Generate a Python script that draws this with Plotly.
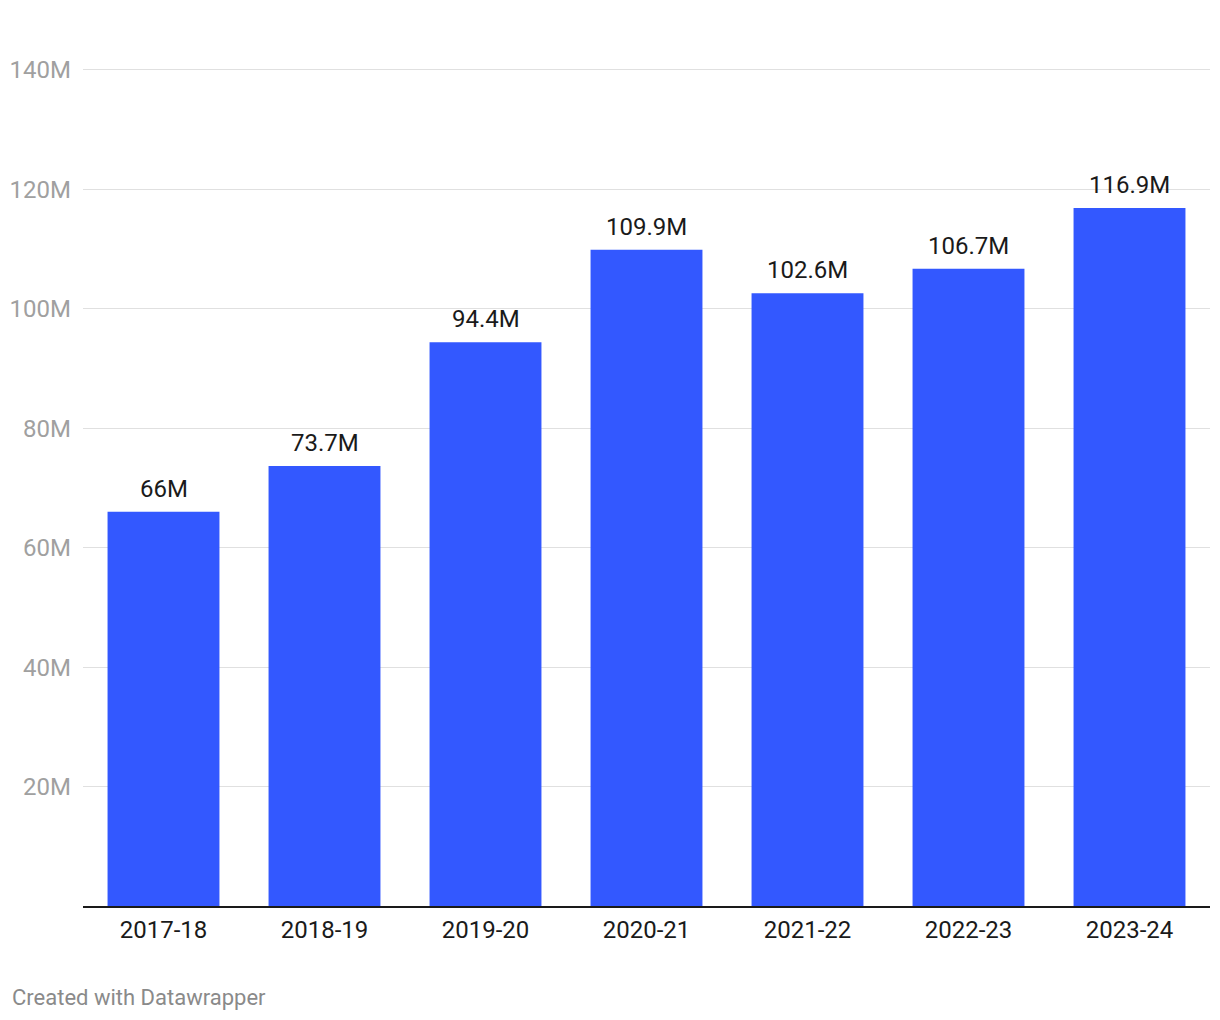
import plotly.graph_objects as go

years = ["2017-18", "2018-19", "2019-20", "2020-21", "2021-22", "2022-23", "2023-24"]
values_m = [66.0, 73.7, 94.4, 109.9, 102.6, 106.7, 116.9]
value_labels = ["66M", "73.7M", "94.4M", "109.9M", "102.6M", "106.7M", "116.9M"]
y_ticks = [20e6, 40e6, 60e6, 80e6, 100e6, 120e6, 140e6]
y_tick_labels = ["20M", "40M", "60M", "80M", "100M", "120M", "140M"]

values = [v * 1e6 for v in values_m]

fig = go.Figure(
    go.Bar(
        x=years,
        y=values,
        marker=dict(color="#3358ff", line=dict(width=0)),
        hoverinfo="skip",
    )
)

annotations = [
    dict(
        x=yr, y=val, xref="x", yref="y",
        text=lab, showarrow=False,
        xanchor="center", yanchor="bottom", yshift=7,
        font=dict(family="Roboto", size=24, color="#1a1a1a"),
    )
    for yr, val, lab in zip(years, values, value_labels)
]
annotations.append(
    dict(
        text="Created with Datawrapper",
        xref="paper", yref="paper",
        x=0, y=0,
        xshift=-73, yshift=-91,
        xanchor="left", yanchor="middle",
        showarrow=False,
        font=dict(family="Roboto", size=22, color="#8a8a8a"),
    )
)

fig.update_layout(
    width=1220,
    height=1020,
    margin=dict(l=81, r=10, t=64, b=114),
    paper_bgcolor="white",
    plot_bgcolor="white",
    bargap=0.305,
    showlegend=False,
    font=dict(family="Roboto"),
    xaxis=dict(
        showgrid=False,
        showline=True,
        linecolor="#1a1a1a",
        linewidth=2,
        ticks="",
        tickfont=dict(family="Roboto", size=24, color="#1a1a1a"),
        ticklabelstandoff=1,
    ),
    yaxis=dict(
        range=[0, 141e6],
        tickvals=y_ticks,
        ticktext=y_tick_labels,
        showgrid=True,
        gridcolor="#e0e0e0",
        gridwidth=1,
        zeroline=False,
        showline=False,
        ticks="",
        tickfont=dict(family="Roboto", size=24, color="#a0a0a0"),
        ticklabelstandoff=11,
    ),
    annotations=annotations,
)

fig.write_html("out.html")
